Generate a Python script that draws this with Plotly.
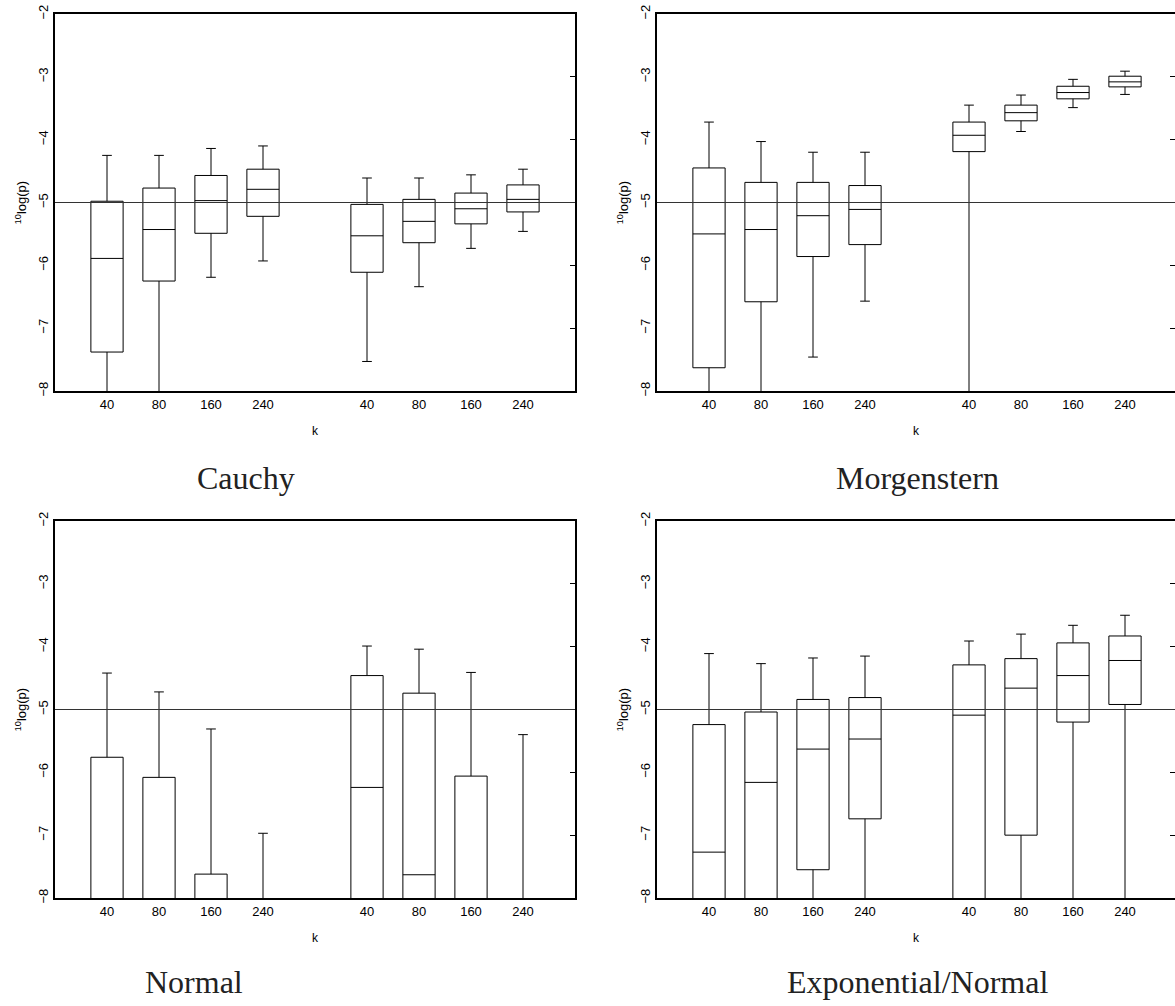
import plotly.graph_objects as go

# ---------------- data (10log(p) box statistics) ----------------
# positions 1-4 = first group, 6-9 = second group
positions = [1, 2, 3, 4, 6, 7, 8, 9]
k_labels = ["40", "80", "160", "240", "40", "80", "160", "240"]
titles = ["Cauchy", "Morgenstern", "Normal", "Exponential/Normal"]
# -8.5 marks values that lie below the visible range (clipped at -8)

cauchy_upper = [-4.25, -4.25, -4.14, -4.10, -4.61, -4.61, -4.56, -4.47]
cauchy_q3 = [-4.98, -4.77, -4.57, -4.47, -5.03, -4.95, -4.85, -4.72]
cauchy_median = [-5.89, -5.43, -4.97, -4.79, -5.53, -5.30, -5.10, -4.95]
cauchy_q1 = [-7.38, -6.25, -5.49, -5.22, -6.11, -5.64, -5.34, -5.15]
cauchy_lower = [-8.5, -8.5, -6.19, -5.93, -7.53, -6.34, -5.73, -5.46]

morg_upper = [-3.72, -4.03, -4.20, -4.20, -3.45, -3.29, -3.04, -2.91]
morg_q3 = [-4.45, -4.68, -4.68, -4.73, -3.72, -3.45, -3.15, -2.99]
morg_median = [-5.50, -5.43, -5.21, -5.11, -3.93, -3.57, -3.25, -3.08]
morg_q1 = [-7.63, -6.58, -5.86, -5.67, -4.19, -3.70, -3.35, -3.16]
morg_lower = [-8.5, -8.5, -7.46, -6.57, -8.5, -3.87, -3.49, -3.28]

normal_upper = [-4.42, -4.72, -5.31, -6.97, -3.99, -4.04, -4.41, -5.40]
normal_q3 = [-5.76, -6.08, -7.62, -8.5, -4.46, -4.74, -6.06, -8.5]
normal_median = [-8.5, -8.5, -8.5, -8.5, -6.24, -7.63, -8.5, -8.5]
normal_q1 = [-8.5, -8.5, -8.5, -8.5, -8.5, -8.5, -8.5, -8.5]
normal_lower = [-8.5, -8.5, -8.5, -8.5, -8.5, -8.5, -8.5, -8.5]

expn_upper = [-4.11, -4.27, -4.18, -4.15, -3.91, -3.80, -3.66, -3.50]
expn_q3 = [-5.24, -5.04, -4.84, -4.81, -4.29, -4.19, -3.94, -3.83]
expn_median = [-7.27, -6.16, -5.63, -5.47, -5.09, -4.66, -4.46, -4.22]
expn_q1 = [-8.5, -8.5, -7.55, -6.74, -8.5, -7.00, -5.20, -4.92]
expn_lower = [-8.5, -8.5, -8.5, -8.5, -8.5, -8.5, -8.5, -8.5]

reference_level = -5
y_ticks = [-8, -7, -6, -5, -4, -3, -2]

panels = [
    (cauchy_q1, cauchy_median, cauchy_q3, cauchy_lower, cauchy_upper),
    (morg_q1, morg_median, morg_q3, morg_lower, morg_upper),
    (normal_q1, normal_median, normal_q3, normal_lower, normal_upper),
    (expn_q1, expn_median, expn_q3, expn_lower, expn_upper),
]

# ---------------- layout geometry ----------------
W, H = 1175, 1006
px_left = [(55, 575), (657, 1177), (55, 575), (657, 1177)]
px_top = [(14, 391), (14, 391), (521, 898), (521, 898)]
title_pos = [(246, 478), (917, 478), (194, 982), (917, 982)]

fig = go.Figure()
layout = dict(
    width=W, height=H,
    margin=dict(l=0, r=0, t=0, b=0, autoexpand=False),
    paper_bgcolor="white", plot_bgcolor="white",
    showlegend=False,
    font=dict(family="Liberation Sans, Arial, sans-serif", size=13, color="black"),
)
shapes = []
annotations = []

for i, (q1, med, q3, lo, up) in enumerate(panels):
    n = i + 1
    sfx = "" if n == 1 else str(n)
    x0p, x1p = px_left[i]
    y0p, y1p = px_top[i]
    x1c = min(x1p, W)
    xr_max = 10 * (x1c - x0p) / (x1p - x0p)
    fig.add_trace(go.Box(
        x=positions, q1=q1, median=med, q3=q3, lowerfence=lo, upperfence=up,
        width=0.62, whiskerwidth=0.3, boxpoints=False,
        line=dict(color="black", width=1), fillcolor="rgba(0,0,0,0)",
        hoverinfo="skip", xaxis="x" + sfx, yaxis="y" + sfx,
    ))
    # dummy trace so the right-hand tick axis is drawn
    fig.add_trace(go.Scatter(x=[], y=[], xaxis="x" + sfx, yaxis="y" + str(n + 4),
                             hoverinfo="skip"))
    layout["xaxis" + sfx] = dict(
        domain=[x0p / W, x1c / W], range=[0, xr_max], anchor="y" + sfx,
        tickmode="array", tickvals=positions, ticktext=k_labels, ticks="",
        showline=True, linewidth=2, linecolor="black", mirror=True,
        showgrid=False, zeroline=False, automargin=False,
        title=dict(text="k", font=dict(size=12), standoff=16),
        tickfont=dict(size=13),
    )
    layout["yaxis" + sfx] = dict(
        domain=[1 - y1p / H, 1 - y0p / H], range=[-8, -2], anchor="x" + sfx,
        tickmode="array", tickvals=y_ticks, tickangle=-90, ticks="",
        showline=True, linewidth=2, linecolor="black", mirror=True,
        showgrid=False, zeroline=False, tickfont=dict(size=13), automargin=False,
        title=dict(text="<sup>10</sup>log(p)", font=dict(size=13), standoff=6),
    )
    layout["yaxis" + str(n + 4)] = dict(
        overlaying="y" + sfx, side="right", anchor="x" + sfx, range=[-8, -2],
        tickmode="array", tickvals=y_ticks, ticks="inside", ticklen=5,
        tickcolor="black", showticklabels=False, showline=False,
        showgrid=False, zeroline=False,
    )
    shapes.append(dict(type="line", xref="x" + sfx + " domain", yref="y" + sfx,
                       x0=0, x1=1, y0=reference_level, y1=reference_level,
                       line=dict(color="#333333", width=1)))
    tx, ty = title_pos[i]
    annotations.append(dict(text=titles[i], x=tx / W, y=1 - ty / H, xref="paper", yref="paper",
                            showarrow=False, xanchor="center", yanchor="middle",
                            font=dict(family="Liberation Serif, Times New Roman, serif",
                                      size=32, color="#222222")))

layout["shapes"] = shapes
layout["annotations"] = annotations
fig.update_layout(**layout)
fig.write_html("out.html", config={"displayModeBar": False},
               post_script="document.body.style.margin='0';document.body.style.overflow='hidden';")
